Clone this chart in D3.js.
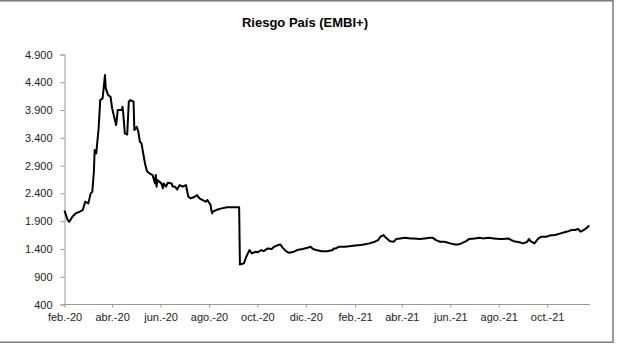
<!DOCTYPE html>
<html>
<head>
<meta charset="utf-8">
<script src="https://cdn.jsdelivr.net/npm/d3@7"></script>
<style>
  body { margin: 0; background: #fff; }
  svg { display: block; font-family: "Liberation Sans", Arial, sans-serif; }
</style>
</head>
<body>
<div id="chart"></div>
<script>
// Riesgo País (EMBI+), puntos básicos
const dates = [
  "2020-02-01","2020-02-05","2020-02-07","2020-02-11","2020-02-15","2020-02-20","2020-02-24","2020-02-27",
  "2020-03-02","2020-03-05","2020-03-07","2020-03-09","2020-03-10","2020-03-12","2020-03-15","2020-03-17",
  "2020-03-20","2020-03-23","2020-03-24","2020-03-27","2020-03-30","2020-04-01","2020-04-03","2020-04-06",
  "2020-04-07","2020-04-08","2020-04-13","2020-04-14","2020-04-15","2020-04-17","2020-04-20","2020-04-22",
  "2020-04-24","2020-04-28","2020-04-29","2020-05-02","2020-05-04","2020-05-06","2020-05-08","2020-05-11",
  "2020-05-13","2020-05-15","2020-05-18","2020-05-22","2020-05-25","2020-05-26","2020-05-27","2020-05-28",
  "2020-06-02","2020-06-04","2020-06-05","2020-06-08","2020-06-10","2020-06-15","2020-06-16","2020-06-19",
  "2020-06-22","2020-06-25","2020-06-29","2020-07-03","2020-07-06","2020-07-09","2020-07-14","2020-07-17",
  "2020-07-20","2020-07-24","2020-07-28","2020-07-30","2020-08-03","2020-08-04","2020-08-05","2020-08-06",
  "2020-08-10","2020-08-17","2020-08-24","2020-09-01","2020-09-08","2020-09-09","2020-09-14","2020-09-17",
  "2020-09-21","2020-09-24","2020-09-29","2020-10-01","2020-10-06","2020-10-09","2020-10-14","2020-10-19",
  "2020-10-22","2020-10-27","2020-10-30","2020-11-02","2020-11-06","2020-11-10","2020-11-16","2020-11-20",
  "2020-11-27","2020-12-03","2020-12-07","2020-12-10","2020-12-14","2020-12-21","2020-12-28","2021-01-04",
  "2021-01-05","2021-01-08","2021-01-12","2021-01-19","2021-01-25","2021-02-01","2021-02-08","2021-02-12",
  "2021-02-19","2021-02-26","2021-03-02","2021-03-05","2021-03-09","2021-03-12","2021-03-17","2021-03-22",
  "2021-03-25","2021-03-30","2021-04-05","2021-04-12","2021-04-16","2021-04-23","2021-04-30","2021-05-06",
  "2021-05-10","2021-05-14","2021-05-19","2021-05-24","2021-05-27","2021-06-01","2021-06-07","2021-06-11",
  "2021-06-15","2021-06-21","2021-06-25","2021-07-02","2021-07-08","2021-07-12","2021-07-19","2021-07-26",
  "2021-08-02","2021-08-06","2021-08-13","2021-08-17","2021-08-20","2021-08-27","2021-09-01","2021-09-06",
  "2021-09-08","2021-09-10","2021-09-15","2021-09-20","2021-09-24","2021-09-30","2021-10-04","2021-10-11",
  "2021-10-18","2021-10-25","2021-10-28","2021-11-01","2021-11-05","2021-11-09","2021-11-12","2021-11-16",
  "2021-11-19","2021-11-23"
];
const embi = [
  2090,1920,1890,1980,2040,2070,2100,2250,
  2220,2400,2430,2790,3180,3120,3570,4080,
  4110,4530,4290,4170,4140,3930,3810,3630,
  3750,3900,3900,3960,3840,3480,3460,4050,
  4080,4050,3540,3600,3510,3330,3300,3050,
  2900,2800,2760,2730,2580,2730,2520,2640,
  2580,2490,2580,2520,2590,2580,2530,2520,
  2470,2550,2520,2550,2340,2310,2340,2370,
  2310,2280,2250,2280,2190,2100,2040,2070,
  2100,2130,2150,2150,2150,1120,1140,1260,
  1380,1320,1350,1340,1380,1360,1410,1400,
  1440,1470,1480,1420,1360,1330,1350,1380,
  1400,1420,1440,1400,1380,1360,1360,1380,
  1410,1410,1440,1440,1450,1460,1470,1480,
  1500,1530,1560,1620,1650,1600,1540,1530,
  1580,1590,1600,1590,1590,1580,1590,1600,
  1600,1560,1530,1530,1520,1500,1480,1480,
  1500,1540,1580,1590,1600,1590,1600,1590,
  1580,1580,1590,1560,1540,1520,1500,1530,
  1580,1540,1500,1590,1620,1620,1640,1650,
  1680,1710,1720,1740,1740,1760,1710,1740,
  1770,1820
];
const xTickDates = ["2020-02-01","2020-04-01","2020-06-01","2020-08-01","2020-10-01","2020-12-01",
  "2021-02-01","2021-04-01","2021-06-01","2021-08-01","2021-10-01"];
const xTickLabels = ["feb.-20","abr.-20","jun.-20","ago.-20","oct.-20","dic.-20",
  "feb.-21","abr.-21","jun.-21","ago.-21","oct.-21"];
const yTicks = [400, 900, 1400, 1900, 2400, 2900, 3400, 3900, 4400, 4900];

const W = 617, H = 344;
const margin = {top: 54.5, right: 27, bottom: 39.5, left: 64.5};
const parse = d3.utcParse("%Y-%m-%d");
const data = dates.map((d, i) => ({date: parse(d), value: embi[i]}));

const svg = d3.select("#chart").append("svg")
  .attr("width", W).attr("height", H);

// marco
svg.append("rect")
  .attr("x", -1).attr("y", 0.75)
  .attr("width", 614).attr("height", 341.5)
  .attr("fill", "none").attr("stroke", "#7a7a7a").attr("stroke-width", 1.5);

const x = d3.scaleUtc()
  .domain([parse("2020-02-01"), parse("2021-11-24")])
  .range([margin.left, W - margin.right]);
const y = d3.scaleLinear()
  .domain([400, 4900])
  .range([H - margin.bottom, margin.top]);

const esFormat = d3.formatLocale({decimal: ",", thousands: ".", grouping: [3], currency: ["$", ""]}).format(",d");

svg.append("text")
  .attr("x", 305).attr("y", 27)
  .attr("text-anchor", "middle")
  .attr("font-size", 13).attr("font-weight", "bold")
  .attr("fill", "#000")
  .text("Riesgo País (EMBI+)");

const xAxis = svg.append("g")
  .attr("transform", `translate(0,${H - margin.bottom})`)
  .call(d3.axisBottom(x)
    .tickValues(xTickDates.map(parse))
    .tickFormat((d, i) => xTickLabels[i])
    .tickSize(3).tickPadding(6));

const yAxis = svg.append("g")
  .attr("transform", `translate(${margin.left},0)`)
  .call(d3.axisLeft(y)
    .tickValues(yTicks)
    .tickFormat(esFormat)
    .tickSize(4).tickPadding(8));

[xAxis, yAxis].forEach(g => {
  g.select(".domain").attr("stroke", "#999").attr("stroke-width", 1);
  g.selectAll(".tick line").attr("stroke", "#999");
  g.selectAll(".tick text").attr("font-size", 11).attr("fill", "#222")
    .attr("font-family", "'Liberation Sans', Arial, sans-serif");
});
xAxis.select(".domain").attr("d", `M${margin.left},0H${W - margin.right}`);

const line = d3.line()
  .x(d => x(d.date))
  .y(d => y(d.value));

svg.append("path")
  .datum(data)
  .attr("fill", "none")
  .attr("stroke", "#000")
  .attr("stroke-width", 2)
  .attr("stroke-linejoin", "round")
  .attr("d", line);
</script>
</body>
</html>
